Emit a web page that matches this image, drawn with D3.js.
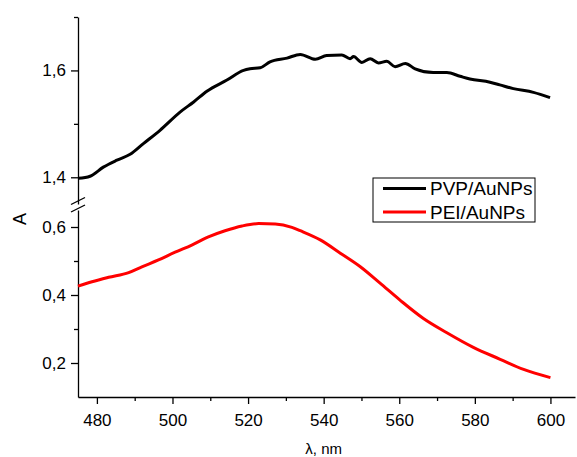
<!DOCTYPE html>
<html>
<head>
<meta charset="utf-8">
<script src="https://cdn.jsdelivr.net/npm/d3@7"></script>
<style>
  body { margin: 0; background: #fff; }
  text { font-family: "Liberation Sans", Arial, sans-serif; }
</style>
</head>
<body>
<script>
// PVP/AuNPs (upper segment)
const pvpLambda = [475.1, 478.2, 481.7, 485.3, 488.8, 492.3, 496.7, 502, 505.6, 509.1, 514.4, 518.8,
  520.5, 523.2, 525.8, 530.3, 533.8, 537.8, 540.8, 544.8, 547, 547.9, 550.1, 552.3, 554.5, 556.7,
  558.9, 561.6, 564.2, 569, 572.6, 576.1, 578.7, 584, 586.6, 590.2, 595.5, 599.9];
const pvpA = [1.398, 1.402, 1.419, 1.432, 1.443, 1.463, 1.488, 1.522, 1.541, 1.561, 1.582, 1.600,
  1.603, 1.605, 1.616, 1.623, 1.630, 1.621, 1.628, 1.629, 1.622, 1.626, 1.615, 1.622, 1.614, 1.617,
  1.607, 1.613, 1.603, 1.596, 1.596, 1.589, 1.584, 1.578, 1.573, 1.566, 1.559, 1.549];

// PEI/AuNPs (lower segment)
const peiLambda = [475, 478.7, 483.1, 488.4, 491.9, 496.3, 500.7, 505.1, 509.5, 513.9, 518.4, 522.8,
  527.2, 531.6, 533.8, 539.1, 544.4, 549.7, 555, 560.2, 566.4, 572.6, 579.6, 586.7, 592.9, 600];
const peiA = [0.426, 0.439, 0.452, 0.466, 0.483, 0.503, 0.526, 0.547, 0.571, 0.589, 0.603, 0.610,
  0.609, 0.599, 0.589, 0.562, 0.523, 0.483, 0.434, 0.385, 0.331, 0.289, 0.246, 0.211, 0.181, 0.157];

const seriesNames = ["PVP/AuNPs", "PEI/AuNPs"];
const seriesColors = ["#000000", "#ff0000"];

const xMajor = [480, 500, 520, 540, 560, 580, 600];
const xMinor = [490, 510, 530, 550, 570, 590];
const upperMajor = [1.4, 1.6], upperMinor = [1.5, 1.7];
const lowerMajor = [0.2, 0.4, 0.6], lowerMinor = [0.3, 0.5];
const fmt = d => String(d).replace(".", ",");

const W = 577, H = 457;
const svg = d3.select("body").append("svg")
  .attr("width", W).attr("height", H);

// Scales
const x = d3.scaleLinear().domain([475, 606.5]).range([78, 575]);
const yUp = d3.scaleLinear().domain([1.35, 1.7]).range([204, 17]);
const yLo = d3.scaleLinear().domain([0.1, 0.65]).range([397, 210]);

function styleAxis(g) {
  g.selectAll("path, line").attr("stroke", "#000").attr("stroke-width", 1.3);
  g.selectAll("text").attr("font-size", 17).attr("fill", "#000");
}

// X axis
svg.append("g")
  .attr("transform", `translate(0,${yLo(0.1)})`)
  .call(d3.axisBottom(x).tickValues(xMajor).tickSize(7).tickSizeOuter(0).tickPadding(10))
  .call(styleAxis);
svg.append("g")
  .attr("transform", `translate(0,${yLo(0.1)})`)
  .call(d3.axisBottom(x).tickValues(xMinor).tickSize(4).tickSizeOuter(0).tickFormat(""))
  .call(g => g.select(".domain").remove())
  .call(styleAxis);

// Y axes (broken)
[[yUp, upperMajor, upperMinor], [yLo, lowerMajor, lowerMinor]].forEach(([y, maj, min]) => {
  svg.append("g")
    .attr("transform", `translate(${x(475)},0)`)
    .call(d3.axisLeft(y).tickValues(maj).tickSize(7).tickSizeOuter(0).tickPadding(5).tickFormat(fmt))
    .call(styleAxis);
  svg.append("g")
    .attr("transform", `translate(${x(475)},0)`)
    .call(d3.axisLeft(y).tickValues(min).tickSize(4).tickSizeOuter(0).tickFormat(""))
    .call(g => g.select(".domain").remove())
    .call(styleAxis);
});

// Break marks
const x0 = x(475);
[201, 208.5].forEach(yb => {
  svg.append("line")
    .attr("x1", x0 - 7).attr("y1", yb + 3.5)
    .attr("x2", x0 + 7).attr("y2", yb - 3.5)
    .attr("stroke", "#000").attr("stroke-width", 1.3);
});

// Lines
const lineUp = d3.line().curve(d3.curveMonotoneX).x(d => x(d[0])).y(d => yUp(d[1]));
const lineLo = d3.line().curve(d3.curveMonotoneX).x(d => x(d[0])).y(d => yLo(d[1]));

svg.append("path")
  .datum(d3.zip(pvpLambda, pvpA))
  .attr("fill", "none").attr("stroke", seriesColors[0])
  .attr("stroke-width", 3).attr("stroke-linejoin", "round")
  .attr("d", lineUp);

svg.append("path")
  .datum(d3.zip(peiLambda, peiA))
  .attr("fill", "none").attr("stroke", seriesColors[1])
  .attr("stroke-width", 3).attr("stroke-linejoin", "round")
  .attr("d", lineLo);

// Axis labels
svg.append("text")
  .attr("x", x(540)).attr("y", 454)
  .attr("text-anchor", "middle").attr("font-size", 15)
  .text("λ, nm");

svg.append("text")
  .attr("transform", "translate(26,219) rotate(-90)")
  .attr("text-anchor", "middle").attr("font-size", 18)
  .text("A");

// Legend
const lg = svg.append("g").attr("transform", "translate(373,178)");
lg.append("rect")
  .attr("width", 162).attr("height", 44)
  .attr("fill", "#fff").attr("stroke", "#000").attr("stroke-width", 1);
seriesNames.forEach((name, i) => {
  const yy = 10.5 + i * 23.5;
  lg.append("line")
    .attr("x1", 10).attr("x2", 53).attr("y1", yy).attr("y2", yy)
    .attr("stroke", seriesColors[i]).attr("stroke-width", 3);
  lg.append("text")
    .attr("x", 57).attr("y", yy).attr("dy", "0.36em")
    .attr("font-size", 19)
    .text(name);
});
</script>
</body>
</html>
